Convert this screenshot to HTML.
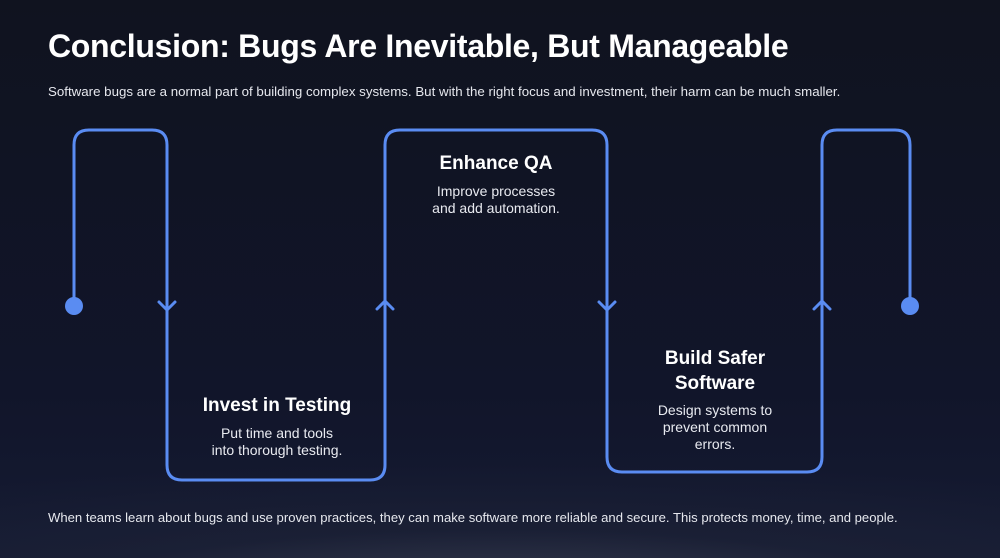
<!DOCTYPE html>
<html><head><meta charset="utf-8"><style>
html,body{margin:0;padding:0}
body{width:1000px;height:558px;overflow:hidden;position:relative;font-family:"Liberation Sans",sans-serif;color:#fff;
background:radial-gradient(ellipse 900px 140px at 500px 600px,#3a3f52 0%,rgba(30,35,55,0.6) 50%,rgba(16,19,31,0) 100%),linear-gradient(180deg,#10131f 0%,#11152a 70%,#151b33 100%);}
h1{position:absolute;left:48px;top:28px;margin:0;font-size:32px;font-weight:bold;letter-spacing:-0.3px}
.sub{position:absolute;left:48px;top:84px;font-size:13.3px;color:#e6e8ee}
.foot{position:absolute;left:48px;top:510px;font-size:13.1px;color:#e6e8ee}
.t{position:absolute;text-align:center;font-size:19px;font-weight:bold}
.d{position:absolute;text-align:center;font-size:14px;color:#e8eaf0;line-height:17px}
</style></head><body>
<h1>Conclusion: Bugs Are Inevitable, But Manageable</h1>
<div class="sub">Software bugs are a normal part of building complex systems. But with the right focus and investment, their harm can be much smaller.</div>
<svg width="1000" height="558" style="position:absolute;left:0;top:0">
<g fill="none" stroke="#5a8cf2" stroke-width="3" stroke-linejoin="round" stroke-linecap="round">
<path d="M74 306 V145 Q74 130 89 130 H152 Q167 130 167 145 V465 Q167 480 182 480 H370 Q385 480 385 465 V145 Q385 130 400 130 H592 Q607 130 607 145 V457 Q607 472 622 472 H807 Q822 472 822 457 V145 Q822 130 837 130 H895 Q910 130 910 145 V306"/>
<path d="M159 302 L167 310 L175 302"/>
<path d="M377 309 L385 301 L393 309"/>
<path d="M599 302 L607 310 L615 302"/>
<path d="M814 309 L822 301 L830 309"/>
</g>
<circle cx="74" cy="306" r="9" fill="#5a8cf2"/>
<circle cx="910" cy="306" r="9" fill="#5a8cf2"/>
</svg>
<div class="t" style="left:180px;width:194px;top:395px">Invest in Testing</div>
<div class="d" style="left:180px;width:194px;top:425px">Put time and tools<br>into thorough testing.</div>
<div class="t" style="left:396px;width:200px;top:153px">Enhance QA</div>
<div class="d" style="left:396px;width:200px;top:183px">Improve processes<br>and add automation.</div>
<div class="t" style="left:620px;width:190px;top:346px;line-height:25px">Build Safer<br>Software</div>
<div class="d" style="left:620px;width:190px;top:402px">Design systems to<br>prevent common<br>errors.</div>
<div class="foot">When teams learn about bugs and use proven practices, they can make software more reliable and secure. This protects money, time, and people.</div>
</body></html>
